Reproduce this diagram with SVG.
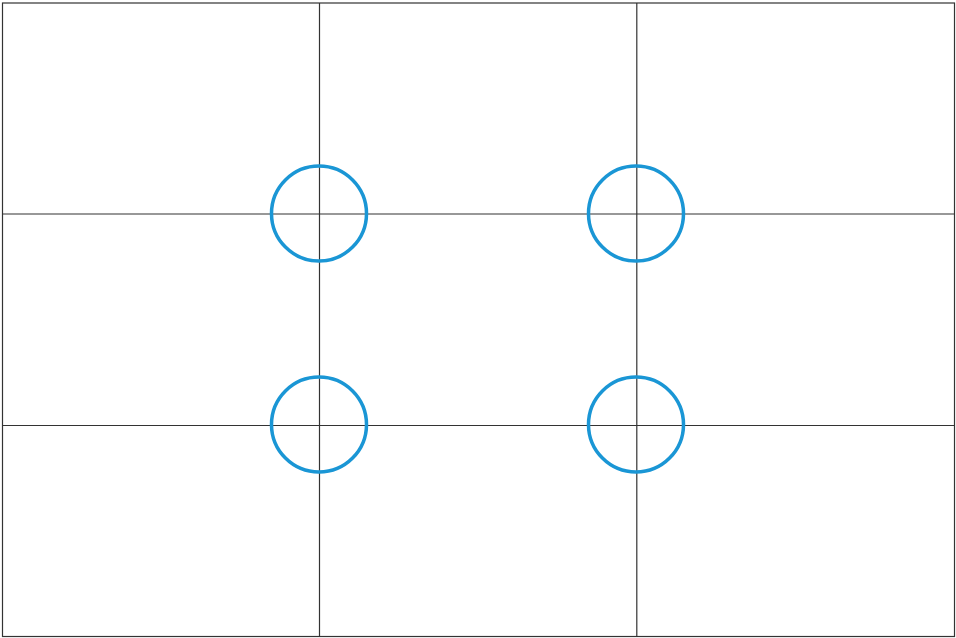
<svg xmlns="http://www.w3.org/2000/svg" width="956" height="638" viewBox="0 0 956 638">
<style>
.grid{stroke:#333;stroke-width:1.2;fill:none}
.pt{fill:none;stroke:#1a96d5;stroke-width:3.5}
</style>
<rect width="956" height="638" fill="#fff"/>
<g id="connectors">
<rect class="grid" x="2.5" y="3" width="952" height="633.5"/>
<line class="grid" x1="319.5" y1="3" x2="319.5" y2="636.5"/>
<line class="grid" x1="636.8" y1="3" x2="636.8" y2="636.5"/>
<line class="grid" x1="2.5" y1="214" x2="954.5" y2="214"/>
<line class="grid" x1="2.5" y1="425.5" x2="954.5" y2="425.5"/>
</g>
<g id="p1"><circle class="pt" cx="319" cy="213.5" r="47.5"/></g>
<g id="p2"><circle class="pt" cx="636" cy="213.5" r="47.5"/></g>
<g id="p3"><circle class="pt" cx="319" cy="424.5" r="47.5"/></g>
<g id="p4"><circle class="pt" cx="636" cy="424.5" r="47.5"/></g>
</svg>
